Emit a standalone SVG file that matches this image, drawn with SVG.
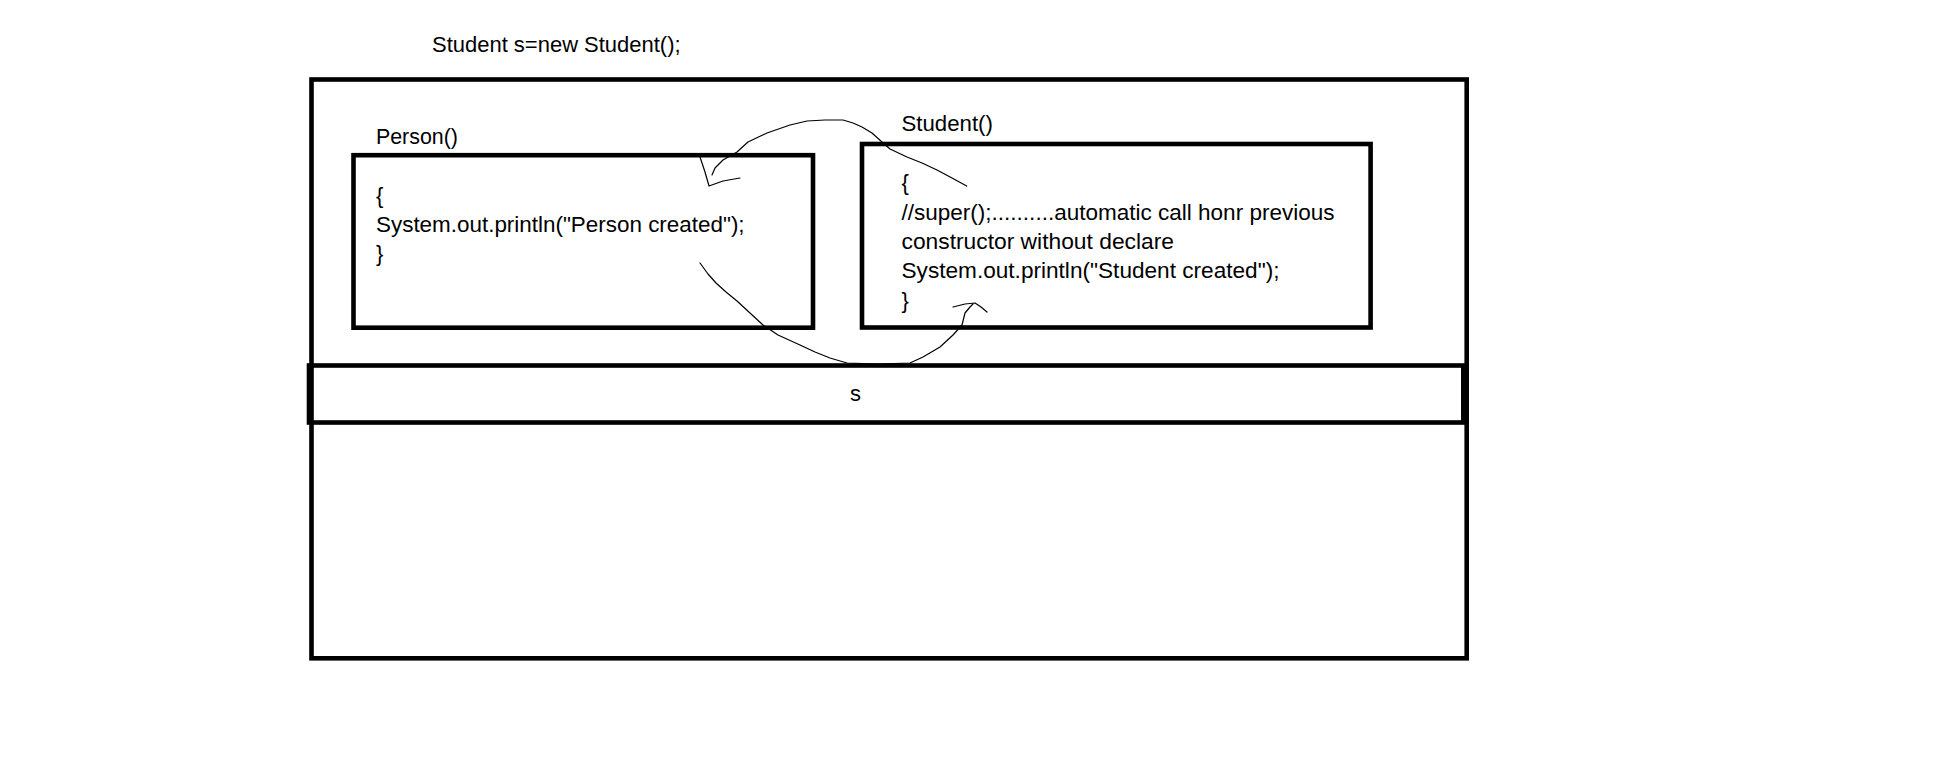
<svg xmlns="http://www.w3.org/2000/svg" width="1945" height="766" viewBox="0 0 1945 766">
<style>
.t{font-family:"Liberation Sans",Arial,sans-serif;font-size:22px;fill:#000}
.box{fill:none;stroke:#000;stroke-width:4.6}
.pen{fill:none;stroke:#000;stroke-width:1.2;stroke-linejoin:round;stroke-linecap:round}
</style>
<rect x="0" y="0" width="1945" height="766" fill="#fff"/>
<text class="t" x="432" y="51.5" textLength="248.6" lengthAdjust="spacingAndGlyphs">Student s=new Student();</text>
<g id="heap">
<rect class="box" x="311.5" y="79.5" width="1155.2" height="578.8" stroke-width="5"/>
</g>
<g id="ref-s">
<rect class="box" x="309" y="365.5" width="1154.3" height="57" fill="#fff"/>
<text class="t" x="850" y="401">s</text>
</g>
<g id="person">
<text class="t" x="376" y="143.5" textLength="81.9" lengthAdjust="spacingAndGlyphs">Person()</text>
<rect class="box" x="353.5" y="155.2" width="459.5" height="172.5"/>
<text class="t" x="376" y="202.5">{</text>
<text class="t" x="376" y="231.5" textLength="368.6" lengthAdjust="spacingAndGlyphs">System.out.println("Person created");</text>
<text class="t" x="376" y="260.5">}</text>
</g>
<g id="student">
<text class="t" x="901.5" y="130.7" textLength="91.4" lengthAdjust="spacingAndGlyphs">Student()</text>
<rect class="box" x="862" y="144" width="508.6" height="183.5"/>
<text class="t" x="901.5" y="190.4">{</text>
<text class="t" x="901.5" y="219.7" textLength="433" lengthAdjust="spacingAndGlyphs">//super();..........automatic call honr previous</text>
<text class="t" x="901.5" y="249" textLength="272.5" lengthAdjust="spacingAndGlyphs">constructor without declare</text>
<text class="t" x="901.5" y="278.3" textLength="378" lengthAdjust="spacingAndGlyphs">System.out.println("Student created");</text>
<text class="t" x="901.5" y="307.6">}</text>
</g>
<g id="connectors">
<polyline class="pen" points="966.7,186 952,178 937,170 922,163 907,157 890,149 882,142 872,133 862,127 853,123 843,120 825,120 807,121 790,125 767,133 748,142 737,152 723,160 715,168 712,175"/>
<polyline class="pen" points="700,157 705,172 709,186 723,181 740,178"/>
<polyline class="pen" points="700,263 708,274 716,283 726,292 737,301 750,313 763,325 778,335 800,345 815,352 830,358 847,363 878,364 910,363 923,357 940,347 953,335 962,325 965,313 970,307 973,304"/>
<polyline class="pen" points="953,307 965,304 975,303 981,307 987,312"/>
</g>
</svg>
